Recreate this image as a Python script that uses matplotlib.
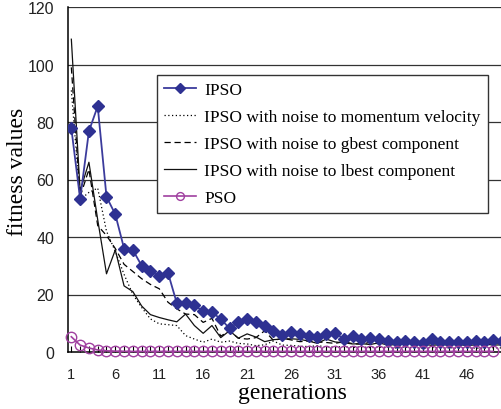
import matplotlib.pyplot as plt
import numpy as np

gens = np.arange(1, 51)

ipso = [77.8, 53.2, 76.8, 85.5, 54.0, 47.9, 36.0, 35.5, 30.0, 28.2,
        26.3, 27.5, 17.0, 17.0, 16.2, 14.2, 13.8, 11.5, 8.2, 10.5,
        11.5, 10.5, 9.2, 7.4, 5.8, 6.8, 6.3, 5.6, 5.1, 6.2,
        6.6, 4.6, 5.5, 4.6, 5.0, 4.5, 3.9, 3.5, 3.9, 3.5,
        3.1, 4.6, 3.6, 3.4, 3.6, 3.4, 3.8, 3.5, 4.3, 3.8]

noise_momentum = [91.0, 53.0, 55.5, 57.0, 42.0, 35.0, 27.0, 20.0, 15.5, 11.5,
                  9.8, 9.5, 9.2, 5.7, 4.5, 3.4, 4.5, 3.4, 3.8, 3.0,
                  2.8, 2.2, 2.5, 3.8, 2.4, 2.3, 2.0, 1.9, 2.2, 1.8,
                  1.7, 1.9, 1.6, 1.8, 1.5, 1.7, 1.6, 1.4, 1.7, 1.5,
                  1.4, 1.6, 1.3, 1.5, 1.4, 1.6, 1.3, 1.4, 1.5, 1.4]

noise_gbest = [99.0, 54.0, 63.5, 44.0, 40.5, 36.0, 30.5, 28.0, 25.5, 23.5,
               22.0, 17.3, 15.0, 13.2, 13.0, 10.3, 11.7, 5.5, 7.4, 4.8,
               4.5, 5.0, 7.4, 4.0, 4.8, 4.2, 3.6, 3.8, 3.5, 3.3,
               3.0, 3.6, 2.9, 2.7, 3.4, 2.8, 3.5, 3.0, 2.6, 4.2,
               3.3, 2.8, 3.1, 3.4, 3.0, 2.8, 3.5, 3.1, 3.2, 3.0]

noise_lbest = [108.8, 56.0, 66.0, 46.0, 27.2, 35.5, 23.0, 21.0, 16.0, 13.0,
               12.0, 11.2, 10.5, 13.2, 9.2, 6.5, 9.2, 5.0, 7.4, 4.8,
               6.3, 5.2, 3.6, 4.3, 4.5, 4.6, 4.4, 3.8, 3.0, 4.5,
               3.5, 3.2, 2.8, 2.9, 2.6, 3.2, 2.4, 2.6, 3.4, 2.5,
               2.8, 2.3, 2.6, 2.4, 2.7, 2.2, 2.5, 2.8, 2.4, 2.5]

pso = [5.3, 2.4, 1.4, 0.7, 0.4, 0.3, 0.25, 0.2, 0.2, 0.2,
       0.2, 0.2, 0.2, 0.2, 0.2, 0.2, 0.2, 0.2, 0.2, 0.2,
       0.2, 0.2, 0.2, 0.2, 0.2, 0.2, 0.2, 0.2, 0.2, 0.2,
       0.2, 0.2, 0.2, 0.2, 0.2, 0.2, 0.2, 0.2, 0.2, 0.2,
       0.2, 0.2, 0.2, 0.2, 0.2, 0.2, 0.2, 0.2, 0.2, 0.2]

labels = ['IPSO',
          'IPSO with noise to momentum velocity',
          'IPSO with noise to gbest component',
          'IPSO with noise to lbest component',
          'PSO']

serif = 'Liberation Serif'
sans = 'Liberation Sans'

W, H = 502, 410
fig = plt.figure(figsize=(W/100, H/100), dpi=100)
ax = fig.add_axes([68/W, 57/H, 434/W, 345/H])

# horizontal grid
for y in range(20, 121, 20):
    ax.axhline(y, color='#333333', lw=0.9, zorder=0)

l_dot, = ax.plot(gens, noise_momentum, color='black', ls=(0, (1, 2)), lw=0.9, zorder=2)
l_dash, = ax.plot(gens, noise_gbest, color='black', ls=(0, (5, 3)), lw=0.9, zorder=2)
l_solid, = ax.plot(gens, noise_lbest, color='#111111', lw=0.9, zorder=2)
l_ipso, = ax.plot(gens, ipso, color='#3b3b9c', lw=1.3, marker='D',
                  markersize=6.5, markerfacecolor='#2e3192',
                  markeredgecolor='#2e3192', zorder=3)
l_pso, = ax.plot(gens[:49], pso[:49], color='#a040a0', lw=1.2, marker='o',
                 markersize=7.5, markerfacecolor='none',
                 markeredgecolor='#a040a0', markeredgewidth=1.0, zorder=4,
                 clip_on=False)

ax.set_xlim(0.62, 49.0)
ax.set_ylim(0, 120)

ax.set_xticks(gens, minor=True)
ax.set_xticks(np.arange(1, 50, 5))
ax.tick_params(axis='x', which='both', direction='in', length=4, width=0.8,
               colors='black', labelsize=10.5, pad=11)
ax.tick_params(axis='x', which='major', labelcolor='#222222')
ax.set_yticks(np.arange(0, 121, 20))
ax.tick_params(axis='y', length=0, labelsize=11.5, labelcolor='#222222', pad=10)
for lab in ax.get_xticklabels() + ax.get_yticklabels():
    lab.set_family(sans)

for s in ['top', 'right']:
    ax.spines[s].set_visible(False)
ax.spines['left'].set_linewidth(1.1)
ax.spines['bottom'].set_linewidth(1.1)

fig.text(292/W, 1 - 394/H, 'generations', family=serif, fontsize=17,
         ha='center', va='center')
fig.text(18/W, 1 - 172/H, 'fitness values', family=serif, fontsize=17,
         ha='center', va='center', rotation=90)

leg = ax.legend([l_ipso, l_dot, l_dash, l_solid, l_pso], labels,
                loc='upper left', bbox_to_anchor=(0.205, 0.803),
                prop={'family': serif, 'size': 12.5}, handlelength=1.85,
                labelspacing=0.62, borderpad=0.42, handletextpad=0.45,
                borderaxespad=0, fancybox=False, framealpha=1,
                edgecolor='#333333', markerscale=0.75)
leg.get_frame().set_linewidth(1.0)

fig.savefig('out.png', dpi=100)
